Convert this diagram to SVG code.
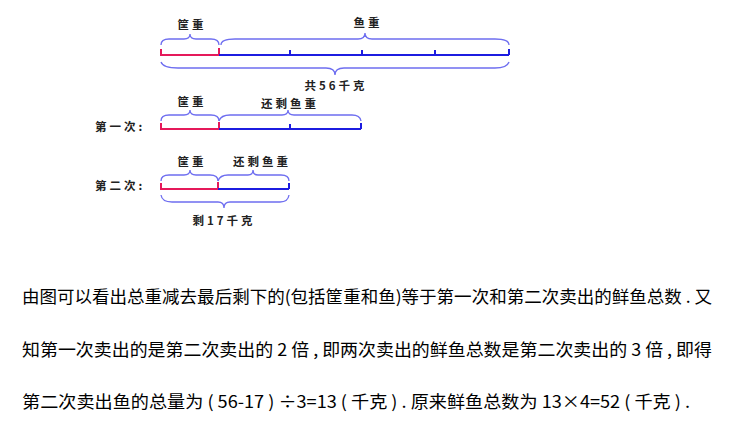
<svg xmlns="http://www.w3.org/2000/svg" width="730" height="426" viewBox="0 0 730 426">
<style>
.red{stroke:#e5195a;stroke-width:2;fill:none}
.blue{stroke:#1c1ce0;stroke-width:2;fill:none}
.brace{stroke:#6e6ef0;stroke-width:1.3;fill:none}
.lbl{font-family:"Noto Sans CJK SC","Noto Sans CJK JP",serif;font-size:11.5px;font-weight:bold;fill:#222;letter-spacing:3px}
.txt{font-family:"Noto Sans CJK SC","Liberation Sans",sans-serif;font-size:17px;fill:#000}
</style>
<rect width="730" height="426" fill="#fff"/>
<g id="total">
<path class="red" d="M161,49 V55 H219 V48"/>
<path class="blue" d="M219,55 H509 M290,50 V55 M362,50 V55 M435,50 V55 M509,49 V55"/>
<path class="brace" d="M161,45 Q161,39 169,39 L184,39 Q190,39 190,34 Q190,39 196,39 L211,39 Q219,39 219,45"/>
<path class="brace" d="M221,45 Q221,39 235,39 L358,39 Q365,39 365,33 Q365,39 372,39 L495,39 Q509,39 509,45"/>
<path class="brace" d="M161,62 Q163,68 178,68 L326,68 Q335,68 335,75 Q335,68 344,68 L495,68 Q507,68 509,62"/>
<text class="lbl" x="192" y="29" text-anchor="middle">筐重</text>
<text class="lbl" x="368" y="27" text-anchor="middle">鱼重</text>
<text class="lbl" x="336" y="90" text-anchor="middle">共56千克</text>
</g>
<g id="first">
<text class="lbl" x="95" y="131">第一次:</text>
<path class="red" d="M161,123 V129 H219 V122"/>
<path class="blue" d="M219,129 H361 M290,124 V129 M361,123 V129"/>
<path class="brace" d="M161,121 Q161,115 169,115 L184,115 Q190,115 190,110 Q190,115 196,115 L211,115 Q219,115 219,121"/>
<path class="brace" d="M219,121 Q221,115 230,115 L282,115 Q288,115 288,110 Q288,115 294,115 L352,115 Q360,115 361,121"/>
<text class="lbl" x="192" y="106" text-anchor="middle">筐重</text>
<text class="lbl" x="290" y="108" text-anchor="middle">还剩鱼重</text>
</g>
<g id="second">
<text class="lbl" x="95" y="190">第二次:</text>
<path class="red" d="M161,183 V189 H218 V182"/>
<path class="blue" d="M218,189 H289 M289,183 V189"/>
<path class="brace" d="M161,181 Q161,175 169,175 L184,175 Q190,175 190,170 Q190,175 196,175 L210,175 Q218,175 218,181"/>
<path class="brace" d="M218,181 Q220,175 228,175 L248,175 Q253,175 253,170 Q253,175 258,175 L281,175 Q289,175 289,181"/>
<path class="brace" d="M161,195 Q162,202 172,202 L218,202 Q224,202 224,208 Q224,202 230,202 L280,202 Q288,202 289,195"/>
<text class="lbl" x="192" y="166" text-anchor="middle">筐重</text>
<text class="lbl" x="262" y="166" text-anchor="middle">还剩鱼重</text>
<text class="lbl" x="224" y="225" text-anchor="middle">剩17千克</text>
</g>
<g id="explanation">
<text class="txt" x="22" y="303" textLength="690" lengthAdjust="spacingAndGlyphs">由图可以看出总重减去最后剩下的(包括筐重和鱼)等于第一次和第二次卖出的鲜鱼总数 . 又</text>
<text class="txt" x="22" y="356" textLength="690" lengthAdjust="spacingAndGlyphs">知第一次卖出的是第二次卖出的 2 倍 , 即两次卖出的鲜鱼总数是第二次卖出的 3 倍 , 即得</text>
<text class="txt" x="22" y="408" textLength="668" lengthAdjust="spacingAndGlyphs">第二次卖出鱼的总量为 ( 56-17 ) ÷3=13 ( 千克 ) . 原来鲜鱼总数为 13×4=52 ( 千克 ) .</text>
</g>
</svg>
